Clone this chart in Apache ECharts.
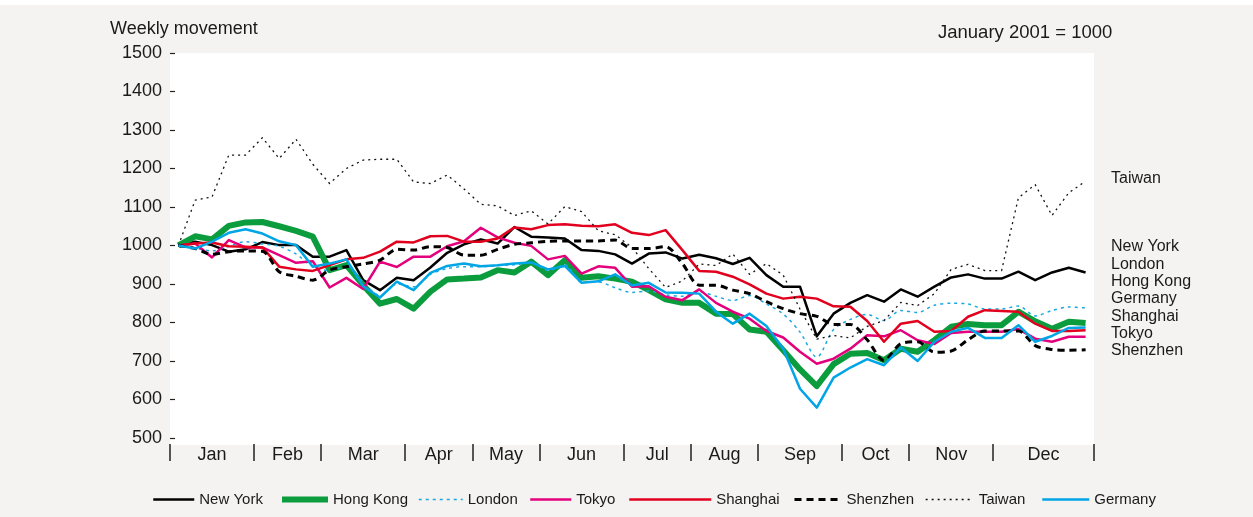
<!DOCTYPE html>
<html>
<head>
<meta charset="utf-8">
<script src="https://cdn.jsdelivr.net/npm/echarts@6/dist/echarts.min.js"></script>
<style>
  html, body { margin: 0; padding: 0; background: #fff; }
  #chart { width: 1253px; height: 517px; }
</style>
</head>
<body>
<div id="chart"></div>
<script>
// months and how many weekly readings fall in each
const months = ['Jan', 'Feb', 'Mar', 'Apr', 'May', 'Jun', 'Jul', 'Aug', 'Sep', 'Oct', 'Nov', 'Dec'];
const weeksPerMonth = [5, 4, 5, 4, 4, 5, 4, 4, 5, 4, 5, 6];

// index values, January 2001 = 1000
const newYork = [1000, 1010, 1001, 984, 990, 1009, 1001, 1001, 971, 971, 988, 910, 884, 916, 910, 943, 981, 1003, 1016, 1005, 1048, 1023, 1021, 1018, 988, 986, 977, 953, 979, 982, 966, 976, 967, 952, 968, 923, 893, 893, 764, 823, 851, 871, 854, 886, 867, 893, 917, 925, 914, 914, 932, 910, 930, 942, 930];
const hongKong = [1000, 1024, 1016, 1051, 1060, 1061, 1050, 1038, 1023, 936, 949, 897, 849, 861, 836, 880, 912, 914, 917, 936, 930, 958, 923, 962, 916, 920, 914, 906, 884, 860, 851, 851, 823, 822, 782, 776, 728, 678, 635, 692, 719, 721, 702, 732, 724, 754, 789, 796, 793, 793, 828, 803, 784, 802, 799];
const london = [1000, 993, 986, 998, 1010, 1004, 998, 978, 945, 935, 945, 905, 870, 900, 893, 925, 940, 945, 945, 948, 950, 955, 935, 950, 905, 905, 890, 878, 882, 872, 868, 880, 868, 857, 870, 848, 822, 775, 710, 782, 808, 821, 805, 831, 826, 845, 850, 848, 835, 835, 843, 817, 831, 840, 838];
const tokyo = [1000, 1005, 969, 1014, 995, 995, 975, 955, 959, 891, 916, 887, 958, 944, 971, 971, 998, 1011, 1046, 1021, 1007, 999, 964, 973, 927, 946, 942, 893, 894, 867, 858, 886, 851, 828, 810, 778, 761, 724, 693, 706, 732, 767, 764, 780, 754, 744, 773, 776, 776, 776, 783, 758, 750, 763, 763];
const shanghai = [1000, 1005, 1008, 998, 997, 995, 945, 938, 934, 949, 964, 968, 984, 1010, 1008, 1024, 1025, 1010, 1010, 1018, 1047, 1042, 1053, 1055, 1051, 1050, 1055, 1033, 1027, 1040, 988, 934, 932, 919, 899, 875, 862, 867, 862, 842, 841, 804, 750, 797, 804, 776, 778, 815, 832, 830, 828, 797, 778, 778, 780];
const shenzhen = [1000, 992, 977, 984, 986, 985, 932, 920, 910, 936, 945, 952, 962, 990, 988, 997, 995, 975, 975, 990, 1003, 1007, 1011, 1012, 1012, 1012, 1014, 992, 992, 997, 953, 897, 897, 884, 875, 854, 836, 823, 816, 795, 795, 755, 701, 745, 750, 723, 726, 755, 778, 778, 778, 740, 730, 728, 729];
const taiwan = [1000, 1118, 1126, 1235, 1235, 1280, 1226, 1276, 1211, 1161, 1200, 1222, 1224, 1224, 1165, 1161, 1183, 1147, 1107, 1103, 1078, 1090, 1056, 1101, 1088, 1038, 1028, 995, 940, 891, 908, 952, 948, 978, 925, 953, 923, 835, 757, 766, 760, 790, 805, 852, 844, 875, 938, 951, 935, 935, 1124, 1158, 1078, 1137, 1167];
const germany = [1000, 992, 1010, 1033, 1042, 1031, 1011, 1001, 945, 953, 964, 894, 865, 906, 884, 929, 947, 953, 946, 949, 953, 956, 938, 947, 903, 907, 925, 896, 903, 878, 877, 875, 828, 797, 823, 791, 732, 628, 579, 657, 683, 705, 689, 735, 700, 750, 776, 786, 760, 760, 793, 750, 765, 786, 787];

// labels stacked at the right edge, top to bottom
const sideLabels = ['Taiwan', 'New York', 'London', 'Hong Kong', 'Germany', 'Shanghai', 'Tokyo', 'Shenzhen'];
const sideLabelY = [177, 245, 263, 280, 297, 315, 332, 349];

// legend entries along the bottom: name, left edge and key length
const legendNames = ['New York', 'Hong Kong', 'London', 'Tokyo', 'Shanghai', 'Shenzhen', 'Taiwan', 'Germany'];
const legendLeft = [152, 279, 418, 529, 628, 793, 925, 1041];
const legendKeyWidth = [41, 46, 44, 41, 82, 47, 48, 47];

const weeks = [];
months.forEach((m, k) => {
  for (let w = 1; w <= weeksPerMonth[k]; w++) weeks.push(m + ' ' + w);
});
const monthEdges = [0];
weeksPerMonth.forEach(n => monthEdges.push(monthEdges[monthEdges.length - 1] + n));
const monthCenters = months.map((m, k) => (monthEdges[k] + monthEdges[k + 1]) / 2);

const font = 'Liberation Sans, Arial, Helvetica, sans-serif';
const textColor = '#1a1a1a';

const chart = echarts.init(document.getElementById('chart'));

function line(name, data, color, width, type, extra) {
  return Object.assign({
    name: name,
    type: 'line',
    xAxisIndex: 0,
    data: data,
    symbol: 'none',
    showSymbol: false,
    lineStyle: { color: color, width: width, type: type, cap: 'butt', join: 'round' },
    itemStyle: { color: color }
  }, extra || {});
}

const option = {
  animation: false,
  backgroundColor: '#f4f3f1',
  textStyle: { fontFamily: font },
  grid: { left: 170, right: 159, top: 53, bottom: 79, containLabel: false },
  legend: legendNames.map((n, i) => ({
    left: legendLeft[i],
    top: 492,
    padding: 0,
    itemWidth: legendKeyWidth[i],
    itemHeight: 14,
    icon: undefined,
    itemStyle: { opacity: 0 },
    lineStyle: { width: 'inherit' },
    textStyle: { fontSize: 15, color: textColor, fontFamily: font },
    data: [n]
  })),
  xAxis: [
    {
      type: 'category',
      data: weeks,
      boundaryGap: true,
      show: false
    },
    {
      type: 'value',
      min: 0,
      max: monthEdges[monthEdges.length - 1],
      position: 'bottom',
      offset: 6,
      axisLine: { show: false },
      splitLine: { show: false },
      axisTick: {
        show: true,
        length: 17,
        customValues: monthEdges,
        lineStyle: { color: '#222', width: 1.5 }
      },
      axisLabel: {
        customValues: monthCenters,
        formatter: v => months[monthCenters.indexOf(v)] || '',
        fontSize: 18,
        color: textColor,
        margin: 2,
        fontFamily: font
      }
    }
  ],
  yAxis: {
    type: 'value',
    min: 500,
    max: 1500,
    interval: 100,
    axisLine: { show: false },
    splitLine: { show: false },
    axisTick: { show: true, inside: true, length: 5, lineStyle: { color: '#222', width: 1.2 } },
    axisLabel: { fontSize: 18, color: textColor, margin: 8, fontFamily: font, formatter: v => String(v) }
  },
  graphic: [
    { type: 'rect', z: -10, silent: true, shape: { x: 0, y: 0, width: 1253, height: 5 }, style: { fill: '#fff' } },
    { type: 'rect', z: -10, silent: true, shape: { x: 170, y: 53, width: 924, height: 392 }, style: { fill: '#fff' } },
    { type: 'text', left: 110, top: 20, style: { text: 'Weekly movement', fontSize: 18, fill: textColor, fontFamily: font } },
    { type: 'text', left: 938, top: 23, style: { text: 'January 2001 = 1000', fontSize: 18.5, fill: textColor, fontFamily: font } }
  ].concat(sideLabels.map((t, i) => ({
    type: 'text',
    left: 1111,
    top: sideLabelY[i] - 6,
    style: { text: t, fontSize: 16, fill: textColor, fontFamily: font }
  }))),
  series: [
    line('New York', newYork, '#000000', 2.5, 'solid'),
    line('Hong Kong', hongKong, '#0b9c3d', 6, 'solid'),
    line('London', london, '#19a9e1', 1.5, [3, 4], { smooth: 0.3 }),
    line('Tokyo', tokyo, '#e4007c', 2.5, 'solid'),
    line('Shanghai', shanghai, '#e2001f', 2.5, 'solid'),
    line('Shenzhen', shenzhen, '#000000', 3, [7, 5], { smooth: 0.3 }),
    line('Taiwan', taiwan, '#111111', 1.3, [2, 4]),
    line('Germany', germany, '#00a5e5', 2.5, 'solid')
  ]
};

chart.setOption(option);
</script>
</body>
</html>
